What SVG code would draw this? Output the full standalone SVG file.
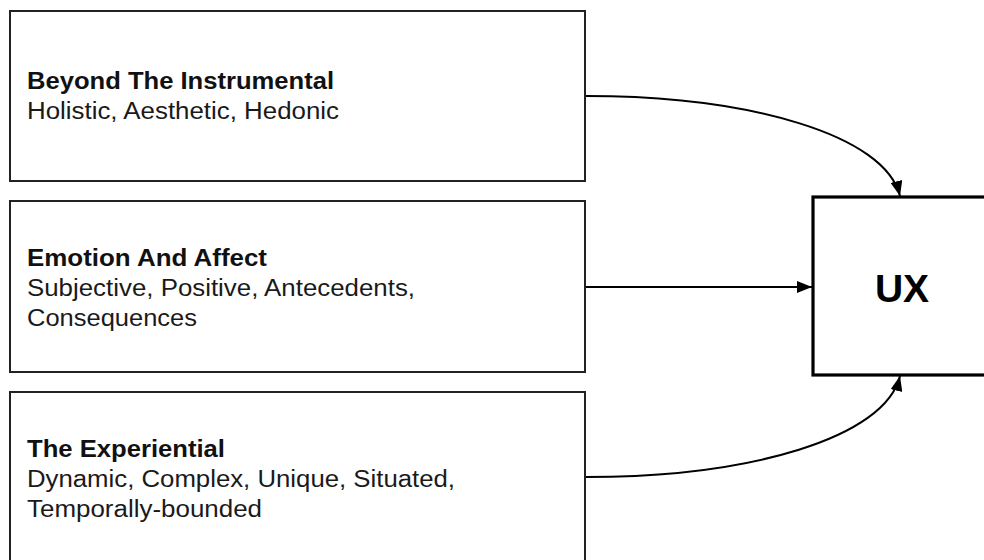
<svg xmlns="http://www.w3.org/2000/svg" width="984" height="560" viewBox="0 0 984 560">
  <defs>
    <style>
      .box { fill: #ffffff; stroke: #222222; stroke-width: 2; }
      .ux { fill: #ffffff; stroke: #000000; stroke-width: 3.2; }
      .title { font-family: "Liberation Sans", Arial, sans-serif; font-weight: bold; font-size: 23px; fill: #111111; }
      .sub { font-family: "Liberation Sans", Arial, sans-serif; font-size: 23px; fill: #1a1a1a; }
      .uxlabel { font-family: "Liberation Sans", Arial, sans-serif; font-weight: bold; font-size: 39px; fill: #000000; }
      .edge { fill: none; stroke: #000000; stroke-width: 2; }
    </style>
    <marker id="arrow" viewBox="0 0 15 12" refX="15" refY="6" markerWidth="15" markerHeight="12" markerUnits="userSpaceOnUse" orient="auto">
      <path d="M0,0 L15,6 L0,12 z" fill="#000000"/>
    </marker>
  </defs>

  <rect width="984" height="560" fill="#ffffff"/>

  <!-- source boxes -->
  <g id="beyond-instrumental">
    <rect class="box" x="10" y="11" width="575" height="170"/>
    <text class="title" x="27" y="89" textLength="307" lengthAdjust="spacingAndGlyphs">Beyond The Instrumental</text>
    <text class="sub" x="27" y="119" textLength="312" lengthAdjust="spacingAndGlyphs">Holistic, Aesthetic, Hedonic</text>
  </g>

  <g id="emotion-affect">
    <rect class="box" x="10" y="201" width="575" height="171"/>
    <text class="title" x="27" y="266" textLength="240" lengthAdjust="spacingAndGlyphs">Emotion And Affect</text>
    <text class="sub" x="27" y="296" textLength="388" lengthAdjust="spacingAndGlyphs">Subjective, Positive, Antecedents,</text>
    <text class="sub" x="27" y="326" textLength="170" lengthAdjust="spacingAndGlyphs">Consequences</text>
  </g>

  <g id="experiential">
    <rect class="box" x="10" y="392" width="575" height="172"/>
    <text class="title" x="27" y="457" textLength="198" lengthAdjust="spacingAndGlyphs">The Experiential</text>
    <text class="sub" x="27" y="487" textLength="428" lengthAdjust="spacingAndGlyphs">Dynamic, Complex, Unique, Situated,</text>
    <text class="sub" x="27" y="517" textLength="235" lengthAdjust="spacingAndGlyphs">Temporally-bounded</text>
  </g>

  <!-- target -->
  <g id="ux">
    <rect class="ux" x="813" y="197" width="180" height="178"/>
    <text class="uxlabel" x="902" y="302" text-anchor="middle">UX</text>
  </g>

  <!-- connectors -->
  <g id="connectors">
    <path class="edge" d="M586,96 C750,96 885,135 900,196" marker-end="url(#arrow)"/>
    <path class="edge" d="M586,287 L812,287" marker-end="url(#arrow)"/>
    <path class="edge" d="M586,477 C750,477 885,438 900,376" marker-end="url(#arrow)"/>
  </g>
</svg>
